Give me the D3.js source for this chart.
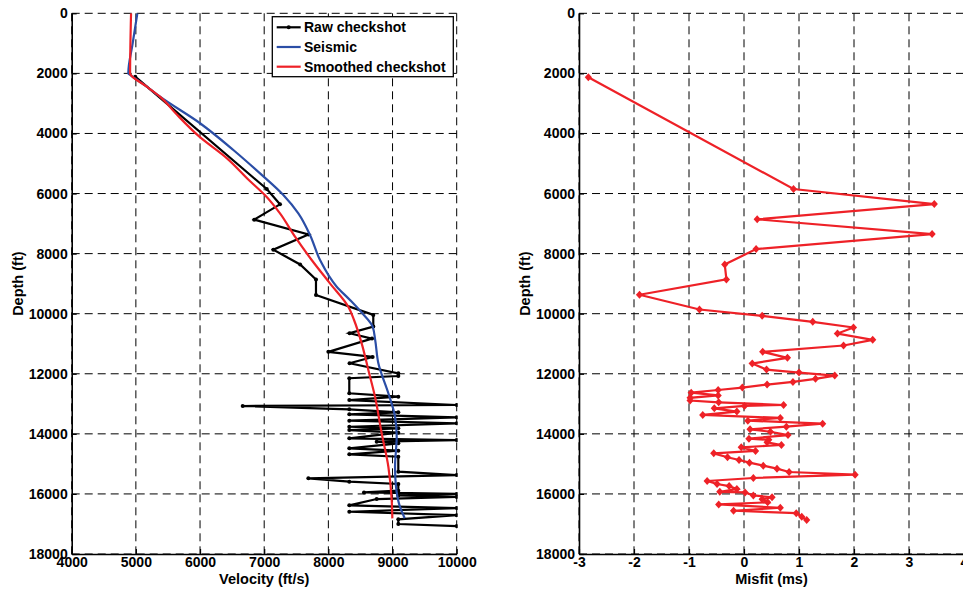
<!DOCTYPE html>
<html lang="en">
<head>
  <meta charset="UTF-8">
  <title>Checkshot velocity and misfit</title>
  <script src="https://d3js.org/d3.v7.min.js"></script>
  <style>
    body { margin: 0; background: #fff; }
    svg text { font-family: "Liberation Sans", Arial, sans-serif; font-weight: bold; font-size: 14px; fill: #000; }
  </style>
</head>
<body>
  <div id="chart"></div>

  <script>
    // Tick values
    const depthTicks = [0, 2000, 4000, 6000, 8000, 10000, 12000, 14000, 16000, 18000];
    const velocityTicks = [4000, 5000, 6000, 7000, 8000, 9000, 10000];
    const misfitTicks = [-3, -2, -1, 0, 1, 2, 3, 4];

    // Raw checkshot (depth ft, velocity ft/s)
    const rawDepth = [2110, 5850, 6360, 6870, 7360, 7870, 8360, 8860, 9380, 10040, 10430, 10650, 10830,
      11270, 11440, 11650, 11985, 12075, 12150, 12650, 12764, 12875, 13040, 13074, 13185, 13285, 13350,
      13450, 13563, 13650, 13763, 13815, 13873, 13962, 14150, 14206, 14262, 14316, 14483, 14561, 14683,
      14761, 15261, 15371, 15481, 15593, 15670, 15893, 15950, 16000, 16050, 16100, 16170, 16380, 16470,
      16593, 16706, 16846, 17002, 17070];
    const rawVelocity = [4990, 7040, 7246, 6845, 7690, 7142, 7560, 7807, 7807, 8700, 8700, 8330, 8680,
      8000, 8690, 8330, 9090, 9090, 8326, 8326, 9090, 8326, 10000, 6665, 8326, 9090, 8326,
      10000, 8326, 10000, 8326, 9090, 8326, 9090, 8326, 10000, 8753, 9090, 8326, 9090, 8326,
      9090, 9090, 10000, 7688, 8326, 9090, 9090, 8555, 10000, 9090, 10000, 8753, 8326, 10000,
      8326, 10000, 9090, 9090, 10000];

    // Seismic velocity
    const seismicDepth = [0, 1000, 2000, 2030, 2443, 2776, 3660, 4550, 5330, 6050, 6660, 7380, 8213, 9100,
      9545, 9990, 10430, 10880, 11650, 12650, 13430, 14100, 15100, 15760, 16430, 16810];
    const seismicVelocity = [5023, 4950, 4882, 4900, 5170, 5376, 6000, 6519, 6935, 7298, 7532, 7714, 7870, 8130,
      8337, 8530, 8690, 8730, 8779, 8935, 9039, 9065, 9039, 9054, 9116, 9190];

    // Smoothed checkshot
    const smoothDepth = [0, 2000, 2030, 2443, 2776, 3330, 4108, 4828, 5550, 6050, 6660, 7437, 8213, 8990,
      9768, 10210, 10987, 11876, 12764, 13983, 15095, 16205, 16814];
    const smoothVelocity = [4925, 4910, 4915, 5170, 5376, 5620, 5990, 6420, 6760, 7010, 7246, 7480, 7740, 8025,
      8311, 8400, 8519, 8623, 8727, 8831, 8935, 8987, 8997];

    // Misfit (depth ft, misfit ms)
    const misfitDepth = [2130, 5850, 6350, 6860, 7350, 7850, 8360, 8860, 9370, 9860, 10070, 10270, 10460,
      10660, 10870, 11060, 11270, 11470, 11660, 11860, 11960, 12060, 12170, 12270, 12360, 12460, 12540,
      12630, 12720, 12800, 12890, 12950, 13040, 13070, 13150, 13260, 13370, 13470, 13560, 13660, 13760,
      13850, 13930, 14040, 14160, 14200, 14280, 14370, 14450, 14570, 14650, 14780, 14870, 14960, 15060,
      15160, 15270, 15360, 15470, 15570, 15670, 15740, 15840, 15930, 15950, 16050, 16110, 16180, 16280,
      16350, 16460, 16560, 16640, 16760, 16870];
    const misfitValue = [-2.83, 0.90, 3.46, 0.24, 3.42, 0.22, -0.35, -0.32, -1.90, -0.81, 0.33, 1.25, 1.99,
      1.70, 2.34, 1.81, 0.34, 0.79, 0.15, 0.41, 1.00, 1.65, 1.30, 0.89, 0.42, -0.03, -0.47,
      -0.96, -0.47, -0.98, -0.98, -0.46, 0.72, 0.01, -0.54, -0.13, -0.75, 0.66, 0.07, 1.43, 0.77,
      0.11, 0.48, 0.80, 0.09, 0.45, 0.42, 0.68, -0.05, 0.21, -0.55, -0.30, -0.09, 0.10, 0.35,
      0.60, 0.82, 2.02, 0.17, -0.67, -0.49, -0.27, -0.13, -0.44, 0.02, 0.17, 0.51, 0.33, 0.43,
      -0.46, 0.66, -0.19, 0.95, 1.05, 1.14];

    const legendItems = ["Raw checkshot", "Seismic", "Smoothed checkshot"];
    const colors = { raw: "#000000", seismic: "#2b4ea6", smooth: "#ee2127" };

    // Layout
    const W = 963, H = 591;
    const plotTop = 13.3, plotBottom = 554;
    const leftPanel = { x0: 71.7, x1: 456.7 };
    const rightPanel = { x0: 579, x1: 964 };

    const svg = d3.select("#chart").append("svg")
      .attr("width", W)
      .attr("height", H);

    svg.append("rect").attr("width", W).attr("height", H).attr("fill", "#fff");

    const y = d3.scaleLinear().domain([0, 18000]).range([plotTop, plotBottom]);
    const xVel = d3.scaleLinear().domain([4000, 10000]).range([leftPanel.x0, leftPanel.x1]);
    const xMis = d3.scaleLinear().domain([-3, 4]).range([rightPanel.x0, rightPanel.x1]);

    // plain hyphen for negatives, like the original
    const plain = d => String(d);

    function drawFrame(x, xTicks, xLabel) {
      const g = svg.append("g");
      const x0 = x.range()[0], x1 = x.range()[1];

      // dashed grid
      g.append("g")
        .selectAll("line")
        .data(xTicks)
        .join("line")
        .attr("x1", d => x(d)).attr("x2", d => x(d))
        .attr("y1", plotTop).attr("y2", plotBottom)
        .attr("stroke", "#000").attr("stroke-width", 1)
        .attr("stroke-dasharray", "8,5");
      g.append("g")
        .selectAll("line")
        .data(depthTicks)
        .join("line")
        .attr("x1", x0).attr("x2", x1)
        .attr("y1", d => y(d)).attr("y2", d => y(d))
        .attr("stroke", "#000").attr("stroke-width", 1)
        .attr("stroke-dasharray", "8,5");

      // axes with inward ticks
      const yAxis = g.append("g")
        .attr("transform", "translate(" + x0 + ",0)")
        .call(d3.axisLeft(y).tickValues(depthTicks).tickSizeInner(-5).tickSizeOuter(0).tickPadding(4).tickFormat(plain));
      const xAxis = g.append("g")
        .attr("transform", "translate(0," + plotBottom + ")")
        .call(d3.axisBottom(x).tickValues(xTicks).tickSizeInner(-5).tickSizeOuter(0).tickPadding(3).tickFormat(plain));

      [yAxis, xAxis].forEach(a => {
        a.select(".domain").attr("stroke", "#000").attr("stroke-width", 1.6);
        a.selectAll(".tick line").attr("stroke", "#000").attr("stroke-width", 1.2);
        a.selectAll("text").attr("font-family", null).attr("font-size", null);
      });

      // axis labels
      g.append("text")
        .attr("x", (x0 + x1) / 2)
        .attr("y", 584)
        .attr("text-anchor", "middle")
        .style("font-size", "14.5px")
        .text(xLabel);
      g.append("text")
        .attr("transform", "translate(" + (x0 - 49) + "," + ((plotTop + plotBottom) / 2) + ") rotate(-90)")
        .attr("text-anchor", "middle")
        .style("font-size", "14.5px")
        .text("Depth (ft)");
      return g;
    }

    drawFrame(xVel, velocityTicks, "Velocity (ft/s)");
    drawFrame(xMis, misfitTicks, "Misfit (ms)");

    // clip for left panel data
    svg.append("clipPath").attr("id", "clipL")
      .append("rect")
      .attr("x", leftPanel.x0).attr("y", plotTop)
      .attr("width", leftPanel.x1 - leftPanel.x0 + 1).attr("height", plotBottom - plotTop);

    const left = svg.append("g").attr("clip-path", "url(#clipL)");

    const line = d3.line().x(d => xVel(d[1])).y(d => y(d[0]));

    const raw = rawDepth.map((d, i) => [d, rawVelocity[i]]);
    const seismic = seismicDepth.map((d, i) => [d, seismicVelocity[i]]);
    const smooth = smoothDepth.map((d, i) => [d, smoothVelocity[i]]);

    left.append("path").datum(raw)
      .attr("d", line).attr("fill", "none")
      .attr("stroke", colors.raw).attr("stroke-width", 2.2);
    left.selectAll("circle").data(raw).join("circle")
      .attr("cx", d => xVel(d[1])).attr("cy", d => y(d[0])).attr("r", 2)
      .attr("fill", colors.raw);
    left.append("path").datum(seismic)
      .attr("d", line.curve(d3.curveMonotoneY)).attr("fill", "none")
      .attr("stroke", colors.seismic).attr("stroke-width", 2.2);
    left.append("path").datum(smooth)
      .attr("d", line.curve(d3.curveMonotoneY)).attr("fill", "none")
      .attr("stroke", colors.smooth).attr("stroke-width", 2.2);

    // legend
    const legend = svg.append("g");
    legend.append("rect")
      .attr("x", 272.3).attr("y", 16.7).attr("width", 181).attr("height", 60)
      .attr("fill", "#fff").attr("stroke", "#000").attr("stroke-width", 1.3);
    const legendColors = [colors.raw, colors.seismic, colors.smooth];
    legendItems.forEach((name, i) => {
      const ly = 27.3 + i * 19.7;
      legend.append("line")
        .attr("x1", 276.7).attr("x2", 300.7).attr("y1", ly).attr("y2", ly)
        .attr("stroke", legendColors[i]).attr("stroke-width", 2.2);
      if (i === 0) {
        legend.append("circle").attr("cx", 288.7).attr("cy", ly).attr("r", 2).attr("fill", colors.raw);
      }
      legend.append("text")
        .attr("x", 304).attr("y", ly).attr("dy", "0.35em")
        .text(name);
    });

    // misfit panel
    const misfit = misfitDepth.map((d, i) => [d, misfitValue[i]]);
    const right = svg.append("g");
    right.append("path").datum(misfit)
      .attr("d", d3.line().x(d => xMis(d[1])).y(d => y(d[0])))
      .attr("fill", "none").attr("stroke", colors.smooth).attr("stroke-width", 2.2);
    right.selectAll("path.mk").data(misfit).join("path")
      .attr("class", "mk")
      .attr("transform", d => "translate(" + xMis(d[1]) + "," + y(d[0]) + ")")
      .attr("d", "M0,-4L3.6,0L0,4L-3.6,0Z")
      .attr("fill", colors.smooth);
  </script>
</body>
</html>
